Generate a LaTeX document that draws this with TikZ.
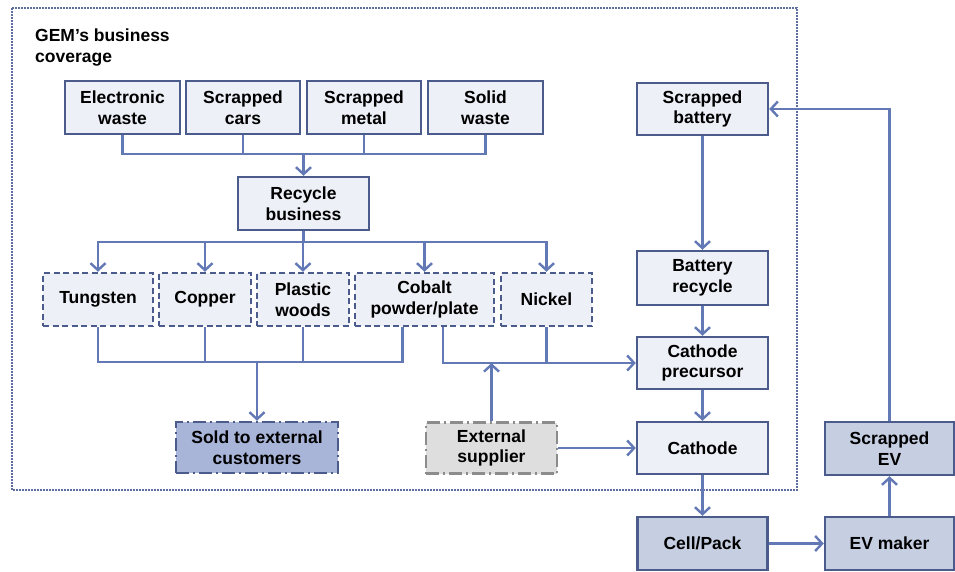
\documentclass[tikz,border=0pt]{standalone}
\usepackage{fontspec}
\setmainfont{Liberation Sans}
\usepackage{xcolor}
\usetikzlibrary{positioning,calc,arrows.meta}

\definecolor{boxline}{HTML}{4B5B8C}
\definecolor{boxfill}{HTML}{EDF0F7}
\definecolor{darkfill}{HTML}{C6CEE2}
\definecolor{soldfill}{HTML}{A8B5D8}
\definecolor{linkblue}{HTML}{6279B6}
\definecolor{supfill}{HTML}{DEDEDE}
\definecolor{supline}{HTML}{8C8C8C}
\definecolor{framedot}{HTML}{5E6E9E}

\tikzset{
  box/.style={draw=boxline, fill=boxfill, line width=2.4pt, align=center, inner sep=0pt,
    minimum height=53pt, font=\bfseries\fontsize{17.5}{20.5}\selectfont},
  dbox/.style={box, dash pattern=on 6pt off 3.5pt},
  kbox/.style={box, fill=darkfill},
  dotbox/.style={box, dash pattern=on 13pt off 4pt on 2pt off 4pt},
  link/.style={draw=linkblue, line width=2.4pt},
  arr/.style={link, -{Straight Barb[length=7pt,width=15pt]}},
}

\begin{document}
\begin{tikzpicture}[x=1pt, y=-1pt]
  \useasboundingbox (0,0) rectangle (955,571);

  % GEM frame
  \draw[framedot, line width=2pt, dash pattern=on 1.6pt off 1.4pt] (12,8) rectangle (797,490);
  \node[anchor=north west, align=left, inner sep=0pt, font=\bfseries\fontsize{17.5}{20.5}\selectfont]
    (title) at (35,29) {GEM’s business\\coverage};

  % Sources
  \node[box, minimum width=115pt] (ew) at (122.5,107.5) {Electronic\\waste};
  \node[box, minimum width=114pt] (sc) at (243,107.5) {Scrapped\\cars};
  \node[box, minimum width=114pt] (sm) at (364,107.5) {Scrapped\\metal};
  \node[box, minimum width=115pt] (sw) at (485.5,107.5) {Solid\\waste};
  \node[box, minimum width=131pt] (rb) at (303.5,203.5) {Recycle\\business};

  % Products
  \node[dbox, minimum width=110pt] (tu) at (98,299.5) {Tungsten};
  \node[dbox, minimum width=92pt] (cu) at (205,299.5) {Copper};
  \node[dbox, minimum width=92pt] (pw) at (303,299.5) {Plastic\\woods};
  \node[dbox, minimum width=139pt] (co) at (424.5,299.5) {Cobalt\\powder/plate};
  \node[dbox, minimum width=91pt] (ni) at (546.5,299.5) {Nickel};

  \node[dotbox, fill=soldfill, minimum width=162pt, minimum height=51pt] (so) at (257,447.5) {Sold to external\\customers};
  \node[dotbox, draw=supline, fill=supfill, minimum width=131pt, minimum height=51pt] (es) at (491.5,448) {External\\supplier};

  % Battery chain
  \node[box, minimum width=131pt, minimum height=52pt] (bat) at (702.5,109) {Scrapped\\battery};
  \node[box, minimum width=131pt, minimum height=54pt] (br) at (702.5,278) {Battery\\recycle};
  \node[box, minimum width=131pt, minimum height=52pt] (cp) at (702.5,363) {Cathode\\precursor};
  \node[box, minimum width=131pt, minimum height=52pt] (ca) at (702.5,448) {Cathode};
  \node[kbox, minimum width=130pt] (cell) at (702.5,543.5) {Cell/Pack};
  \node[kbox, minimum width=129pt] (evm) at (889.5,543.5) {EV maker};
  \node[kbox, minimum width=129pt] (sev) at (889.5,448.5) {Scrapped\\EV};

  % Into recycle business
  \coordinate (topbus) at (303.5,154);
  \draw[link] (ew.south) |- (topbus) -| (sw.south);
  \draw[link] (sc.south) -- (sc.south |- topbus);
  \draw[link] (sm.south) -- (sm.south |- topbus);
  \draw[arr] (topbus) -- (rb.north);

  % Out of recycle business
  \coordinate (midbus) at (303.5,242);
  \draw[link] (rb.south) -- (midbus);
  \draw[arr] (midbus) -| (tu.north);
  \draw[arr] (midbus) -| (ni.north);
  \draw[arr] (cu.north |- midbus) -- (cu.north);
  \draw[arr] (pw.north |- midbus) -- (pw.north);
  \draw[arr] (co.north |- midbus) -- (co.north);

  % Sold outside
  \coordinate (lowbus) at (257,362);
  \draw[link] (tu.south) |- (lowbus) -| ([xshift=-22pt]co.south);
  \draw[link] (cu.south) -- (cu.south |- lowbus);
  \draw[link] (pw.south) -- (pw.south |- lowbus);
  \draw[arr] (lowbus) -- (so.north);

  % Into cathode precursor
  \draw[arr] ([xshift=18.5pt]co.south) |- (cp.west);
  \draw[link] (ni.south) -- (ni.south |- cp.west);
  \draw[arr] (es.north) -- (es.north |- cp.west);
  \draw[arr] (es.east) -- (ca.west);

  % Battery loop
  \draw[arr] (bat) -- (br);
  \draw[arr] (br) -- (cp);
  \draw[arr] (cp) -- (ca);
  \draw[arr] (ca) -- (cell);
  \draw[arr] (cell) -- (evm);
  \draw[arr] (evm) -- (sev);
  \draw[arr] (sev.north) |- (bat.east);
\end{tikzpicture}
\end{document}
